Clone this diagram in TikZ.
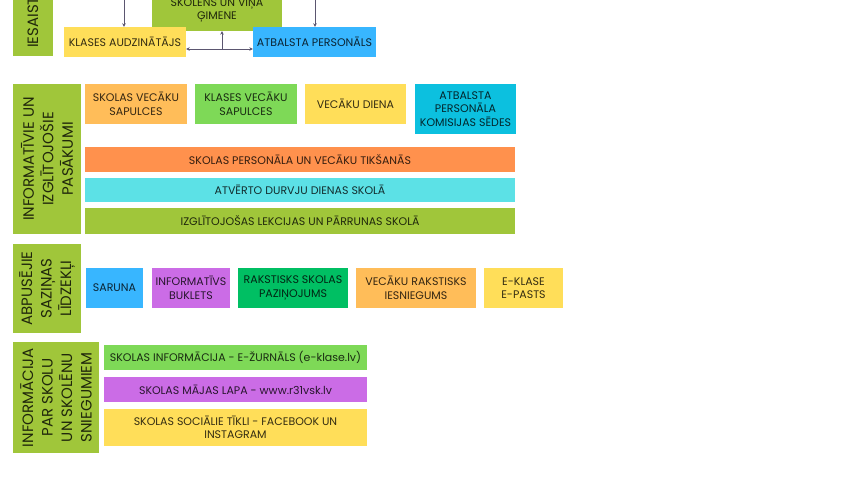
\documentclass[tikz,border=0pt]{standalone}
\usepackage{fontspec}
\setmainfont{Poppins}
\usetikzlibrary{arrows.meta}
\definecolor{olivec}{RGB}{160,198,58}
\definecolor{yel}{HTML}{FFDE59}
\definecolor{blu}{HTML}{38B6FF}
\definecolor{lor}{HTML}{FFBD59}
\definecolor{lgr}{HTML}{7ED957}
\definecolor{cyb}{HTML}{0CC0DF}
\definecolor{ora}{HTML}{FF914D}
\definecolor{cya}{HTML}{5CE1E6}
\definecolor{pur}{HTML}{CB6CE6}
\definecolor{grn}{HTML}{00BF63}
\definecolor{linec}{HTML}{5B5670}
\tikzset{
  bx/.style={rectangle,inner sep=0pt,text=black,text opacity=0.8,align=center,
    font=\fontsize{11}{13.5}\selectfont},
  lab/.style={rectangle,inner sep=0pt,fill=olivec,text=black,text opacity=0.8,align=center,
    rotate=90,font=\fontsize{15}{19.5}\selectfont},
  conn/.style={draw=linec,line width=0.9pt,-{Stealth[length=3.5pt,width=3.5pt]}},
}
\newcommand\bx[7]{\node[bx,fill=#6,minimum width={#4-#2},minimum height={#5-#3}] (#1) at ({(#2+#4)/2},{(#3+#5)/2}) {#7};}
\newcommand\lb[6]{\node[lab,minimum width={#5-#3},minimum height={#4-#2}] (#1) at ({(#2+#4)/2},{(#3+#5)/2}) {#6};}
\begin{document}
\begin{tikzpicture}[x=1pt,y=-1pt]
\useasboundingbox (0,0) rectangle (850,478);
\fill[white] (0,0) rectangle (850,478);
\clip (0,0) rectangle (850,478);
% section 1
\node[rectangle,fill=olivec,inner sep=0pt,minimum width=40pt,minimum height=80pt] (lab1) at (33,16) {};
\node[rotate=90,anchor=west,inner sep=0pt,text=black,text opacity=0.8,font=\fontsize{15}{19.5}\selectfont] (lab1t) at (33,48) {IESAIST};
\bx{skolens}{152}{-12}{282}{31}{olivec}{ŠKOLĒNS UN VIŅA\\ĢIMENE}
\bx{klases}{64}{27}{186}{57}{yel}{KLASES AUDZINĀTĀJS}
\bx{atb}{253}{27}{376}{57}{blu}{ATBALSTA PERSONĀLS}
\coordinate (tl) at (124,0);
\coordinate (tr) at (315,0);
\coordinate (hm) at (222,49);
\draw[conn] (tl) -- (tl |- klases.north);
\draw[conn] (tr) -- (tr |- atb.north);
\draw[conn] (hm) -- (hm |- skolens.south);
\draw[conn,{Stealth[length=3.5pt,width=3.5pt]}-{Stealth[length=3.5pt,width=3.5pt]}] (klases.east |- hm) -- (atb.west |- hm);
% section 2
\lb{lab2}{13}{84}{81}{234}{INFORMATĪVIE UN\\IZGLĪTOJOŠIE\\PASĀKUMI}
\bx{b1}{85}{84}{187}{124}{lor}{SKOLAS VECĀKU\\SAPULCES}
\bx{b2}{195}{84}{297}{124}{lgr}{KLASES VECĀKU\\SAPULCES}
\bx{b3}{305}{84}{406}{124}{yel}{VECĀKU DIENA}
\bx{b4}{415}{84}{516}{134}{cyb}{ATBALSTA\\PERSONĀLA\\KOMISIJAS SĒDES}
\bx{bar1}{85}{147}{515}{172}{ora}{SKOLAS PERSONĀLA UN VECĀKU TIKŠANĀS}
\bx{bar2}{85}{178}{515}{202}{cya}{ATVĒRTO DURVJU DIENAS SKOLĀ}
\bx{bar3}{85}{208}{515}{234}{olivec}{IZGLĪTOJOŠAS LEKCIJAS UN PĀRRUNAS SKOLĀ}
% section 3
\lb{lab3}{13}{244}{81}{333}{ABPUSĒJIE\\SAZIŅAS\\LĪDZEKĻI}
\bx{c1}{86}{268}{143}{308}{blu}{SARUNA}
\bx{c2}{152}{268}{230}{308}{pur}{INFORMATĪVS\\BUKLETS}
\bx{c3}{238}{268}{348}{308}{grn}{RAKSTISKS SKOLAS\\PAZIŅOJUMS}
\bx{c4}{356}{268}{476}{308}{lor}{VECĀKU RAKSTISKS\\IESNIEGUMS}
\bx{c5}{484}{268}{563}{308}{yel}{E-KLASE\\E-PASTS}
% section 4
\lb{lab4}{13}{342}{99}{453}{INFORMĀCIJA\\PAR SKOLU\\UN SKOLĒNU\\SNIEGUMIEM}
\bx{d1}{104}{345}{367}{370}{lgr}{SKOLAS INFORMĀCIJA - E-ŽURNĀLS (e-klase.lv)}
\bx{d2}{104}{377}{367}{402}{pur}{SKOLAS MĀJAS LAPA - www.r31vsk.lv}
\bx{d3}{104}{409}{367}{446}{yel}{SKOLAS SOCIĀLIE TĪKLI - FACEBOOK UN\\INSTAGRAM}
\end{tikzpicture}
\end{document}
